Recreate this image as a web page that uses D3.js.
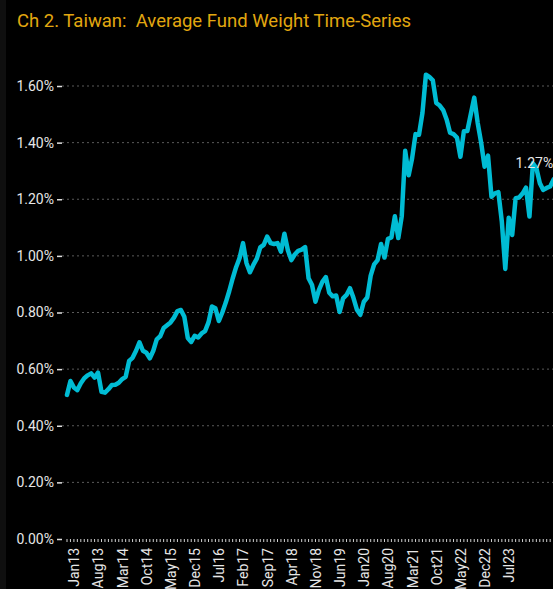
<!DOCTYPE html>
<html>
<head>
<meta charset="utf-8">
<script src="https://cdn.jsdelivr.net/npm/d3@7"></script>
<style>
  html, body { margin: 0; padding: 0; background: #000; }
  svg { display: block; }
</style>
</head>
<body>
<div id="chart"></div>
<script>
// Taiwan - average fund weight (%), monthly from Nov 2012
const startMonth = new Date(2012, 10, 1);
const weights = [
  0.509, 0.558, 0.535, 0.526, 0.550, 0.568, 0.578, 0.585, 0.570, 0.588,
  0.520, 0.517, 0.529, 0.544, 0.545, 0.552, 0.565, 0.573, 0.629, 0.640,
  0.665, 0.695, 0.665, 0.658, 0.638, 0.665, 0.705, 0.716, 0.745, 0.755,
  0.765, 0.782, 0.805, 0.809, 0.785, 0.710, 0.696, 0.718, 0.712, 0.726,
  0.734, 0.765, 0.821, 0.815, 0.770, 0.800, 0.835, 0.875, 0.920, 0.960,
  0.992, 1.045, 0.975, 0.942, 0.968, 0.990, 1.030, 1.039, 1.068, 1.045,
  1.042, 1.045, 1.015, 1.078, 1.020, 0.985, 1.005, 1.018, 1.022, 1.031,
  0.921, 0.897, 0.838, 0.880, 0.908, 0.925, 0.870, 0.857, 0.860, 0.802,
  0.850, 0.862, 0.886, 0.852, 0.810, 0.792, 0.838, 0.853, 0.930, 0.970,
  0.985, 1.042, 0.994, 1.060, 1.065, 1.140, 1.063, 1.140, 1.371, 1.285,
  1.345, 1.430, 1.428, 1.505, 1.640, 1.632, 1.620, 1.540, 1.531, 1.515,
  1.482, 1.435, 1.430, 1.418, 1.350, 1.440, 1.441, 1.500, 1.559, 1.470,
  1.400, 1.315, 1.354, 1.209, 1.221, 1.225, 1.121, 0.954, 1.135, 1.074,
  1.204, 1.206, 1.220, 1.241, 1.139, 1.327, 1.310, 1.257, 1.233, 1.240,
  1.245, 1.270
];
const yTicks = [0, 0.2, 0.4, 0.6, 0.8, 1.0, 1.2, 1.4, 1.6];
const xTickLabels = ["Jan13", "Aug13", "Mar14", "Oct14", "May15", "Dec15", "Jul16",
  "Feb17", "Sep17", "Apr18", "Nov18", "Jun19", "Jan20", "Aug20", "Mar21", "Oct21",
  "May22", "Dec22", "Jul23"];
const lastLabel = "1.27%";

const width = 553, height = 589;
const fmtMonth = d3.timeFormat("%b%y");
const months = weights.map((v, i) => fmtMonth(d3.timeMonth.offset(startMonth, i)));

const svg = d3.select("#chart").append("svg")
  .attr("width", width)
  .attr("height", height)
  .style("font-family", "Roboto, 'Liberation Sans', sans-serif");

svg.append("rect").attr("width", width).attr("height", height).attr("fill", "#000");
svg.append("rect").attr("width", 6).attr("height", height).attr("fill", "#0f0f0f");

// titolo
svg.append("text")
  .attr("x", 17).attr("y", 27)
  .attr("fill", "#E2A710")
  .style("font-size", "18.5px")
  .style("white-space", "pre")
  .text("Ch 2. Taiwan:  Average Fund Weight Time-Series");

const x = d3.scalePoint().domain(months).range([67, 553.6]);
const y = d3.scaleLinear().domain([0, 1.6]).range([539, 86]);

// griglia orizzontale
svg.append("g").selectAll("line")
  .data(yTicks.filter(d => d > 0))
  .enter().append("line")
  .attr("x1", 62).attr("x2", width)
  .attr("y1", d => y(d)).attr("y2", d => y(d))
  .attr("stroke", "#5a5a5a")
  .attr("stroke-width", 1)
  .attr("stroke-dasharray", "2,3");

// asse y
const yAxis = svg.append("g")
  .attr("transform", "translate(62,0)")
  .call(d3.axisLeft(y).tickValues(yTicks).tickFormat(d => d.toFixed(2) + "%").tickSize(5).tickPadding(3));
yAxis.select(".domain").remove();
yAxis.selectAll("line").attr("stroke", "#e0e0e0").attr("stroke-width", 1.5);
yAxis.selectAll("text")
  .attr("fill", "#e6e6e6")
  .style("font-size", "14px")
  .style("font-family", "Roboto, sans-serif");

// asse x: tacche mensili
svg.append("g").selectAll("line")
  .data(months)
  .enter().append("line")
  .attr("x1", d => x(d)).attr("x2", d => x(d))
  .attr("y1", 539).attr("y2", 542)
  .attr("stroke", "#d0d0d0")
  .attr("stroke-width", 1);

const xAxis = svg.append("g")
  .attr("transform", "translate(0,539)")
  .call(d3.axisBottom(x).tickValues(xTickLabels).tickSize(0).tickPadding(8));
xAxis.select(".domain").remove();
xAxis.selectAll("text")
  .attr("fill", "#e6e6e6")
  .style("font-size", "14px")
  .style("font-family", "Roboto, sans-serif")
  .attr("text-anchor", "end")
  .attr("transform", "rotate(-90)")
  .attr("x", -9)
  .attr("y", 0)
  .attr("dy", "0.35em");

// linea
const line = d3.line()
  .x((d, i) => x(months[i]))
  .y(d => y(d));

svg.append("path")
  .datum(weights)
  .attr("fill", "none")
  .attr("stroke", "#00BCD4")
  .attr("stroke-width", 4.5)
  .attr("stroke-linejoin", "round")
  .attr("stroke-linecap", "round")
  .attr("d", line);

// etichetta ultimo valore
const lastIdx = weights.length - 1;
svg.append("text")
  .attr("x", x(months[lastIdx]) - 38)
  .attr("y", y(weights[lastIdx]) - 11)
  .attr("fill", "#e6e6e6")
  .style("font-size", "14px")
  .text(lastLabel);
</script>
</body>
</html>
